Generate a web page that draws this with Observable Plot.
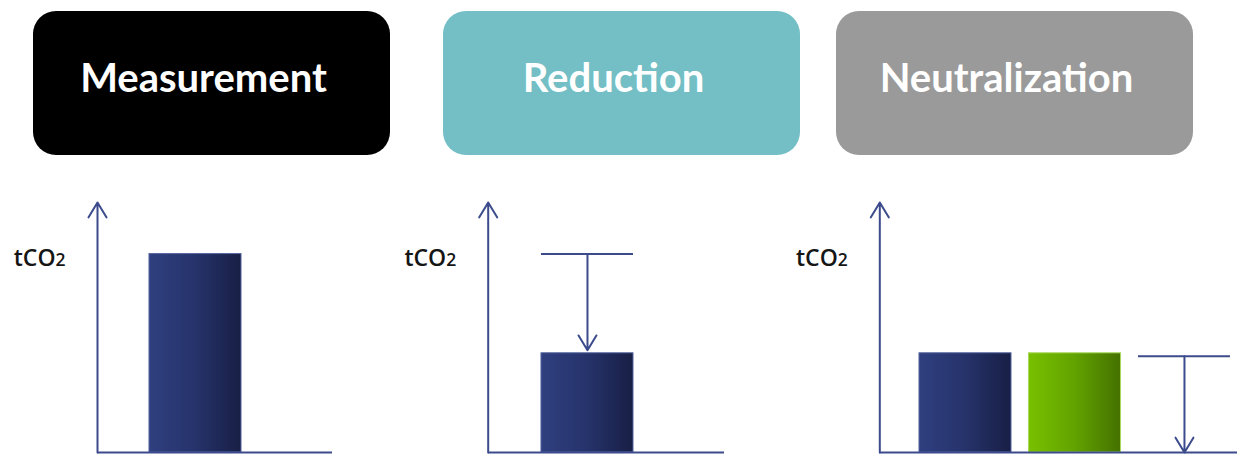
<!DOCTYPE html>
<html>
<head>
<meta charset="utf-8">
<script src="https://cdn.jsdelivr.net/npm/d3@7"></script>
<script src="https://cdn.jsdelivr.net/npm/@observablehq/plot@0.6"></script>
<style>
  html, body { margin: 0; padding: 0; background: #fff; }
  #stage { position: relative; width: 1237px; height: 455px; overflow: hidden; font-family: "Open Sans", sans-serif; }
  .step { position: absolute; top: 11px; width: 357px; height: 144px; border-radius: 23px; }
  .step span { position: absolute; left: 0; right: 0; top: 46px; text-align: center; line-height: 1;
               color: #fff; font-family: Lato, "Open Sans", sans-serif; font-weight: 700; font-size: 40px;
               white-space: nowrap; transform: translateX(-8px); }
  .panel { position: absolute; top: 190px; }
  .panel svg { display: block; overflow: visible; }
</style>
</head>
<body>
<div id="stage">
  <svg width="0" height="0" style="position:absolute">
    <defs>
      <linearGradient id="gradEmissions" x1="0" x2="1" y1="0" y2="0">
        <stop offset="0" stop-color="#2f3f7f"/>
        <stop offset="0.5" stop-color="#26336b"/>
        <stop offset="1" stop-color="#181f45"/>
      </linearGradient>
      <linearGradient id="gradOffsets" x1="0" x2="1" y1="0" y2="0">
        <stop offset="0" stop-color="#79c000"/>
        <stop offset="0.5" stop-color="#62a300"/>
        <stop offset="1" stop-color="#457100"/>
      </linearGradient>
    </defs>
  </svg>
</div>
<script>
// Three steps of carbon management
const steps = ["Measurement", "Reduction", "Neutralization"];
const stepColors = ["#000000", "#73bfc5", "#9a9a9a"];
const unitLabel = "tCO₂";

// Step 1: measured emissions
const measurementCategories = ["Emissions"];
const measurementValues = [100];

// Step 2: emissions after reduction, and the level they were reduced from
const reductionCategories = ["Emissions"];
const reductionValues = [50];
const reductionFrom = [100];

// Step 3: remaining emissions, offsets bought, and the amount neutralized
const neutralizationCategories = ["Emissions", "Offsets"];
const neutralizationValues = [50, 50];
const neutralizedLevel = [48.5];

const AXIS = "#3c4b8c";
const STEP = 1.19;       // slot pitch, in bar widths
const Y_MAX = 126;

const fills = {Emissions: "url(#gradEmissions)", Offsets: "url(#gradOffsets)"};
const edges = {Emissions: "#52639e", Offsets: "#a8d85c"};

const stage = document.getElementById("stage");

// header boxes
steps.forEach((name, i) => {
  const box = document.createElement("div");
  box.className = "step";
  box.style.left = [33, 443, 836][i] + "px";
  box.style.background = stepColors[i];
  const t = document.createElement("span");
  t.textContent = name;
  box.appendChild(t);
  stage.appendChild(box);
});

// write the "2" of tCO₂ as a smaller digit sitting on the baseline
function subscriptUnit(svg) {
  d3.select(svg).selectAll("text").each(function () {
    const node = d3.select(this);
    const target = node.selectAll("tspan").empty() ? node : node.select("tspan");
    const s = target.text();
    if (!s.endsWith("₂")) return;
    target.text(s.slice(0, -1));
    target.append("tspan").attr("font-size", "0.76em").attr("dy", "0.02em").text("2");
  });
}

function panel({left, width, marginLeft, marginRight, xDomain, categories, values, guides}) {
  const bars = categories.map((c, i) => ({category: c, slot: i, value: values[i]}));
  const x0 = xDomain[0];
  const marks = [
    Plot.rectY(bars, {
      x1: d => d.slot * STEP, x2: d => d.slot * STEP + 1, y: "value",
      fill: d => fills[d.category], stroke: d => edges[d.category], strokeWidth: 1
    }),
    Plot.ruleY([0], {stroke: AXIS, strokeWidth: 2}),
    Plot.arrow([0], {x1: x0, x2: x0, y1: 0, y2: Y_MAX, stroke: AXIS, strokeWidth: 2, headLength: 13, headAngle: 62}),
    Plot.text([unitLabel], {frameAnchor: "top-left", dx: -32, dy: 47, textAnchor: "end",
      fontSize: 23, fontWeight: 600, fill: "#151515"})
  ];
  if (guides) {
    marks.push(
      Plot.ruleY(guides, {x1: d => d.slot * STEP, x2: d => d.slot * STEP + 1, y: "from", stroke: AXIS, strokeWidth: 2}),
      Plot.arrow(guides, {x1: d => d.slot * STEP + 0.5, x2: d => d.slot * STEP + 0.5, y1: "from", y2: "to",
        stroke: AXIS, strokeWidth: 2, headLength: 13, headAngle: 62})
    );
  }
  const chart = Plot.plot({
    width, height: 265,
    marginTop: 12, marginBottom: 3, marginLeft, marginRight,
    x: {domain: xDomain, axis: null},
    y: {domain: [0, Y_MAX], axis: null},
    color: {type: "identity"},
    style: {fontFamily: "Open Sans", background: "transparent", overflow: "visible"},
    marks
  });
  subscriptUnit(chart);
  const wrap = document.createElement("div");
  wrap.className = "panel";
  wrap.style.left = left + "px";
  wrap.appendChild(chart);
  stage.appendChild(wrap);
}

panel({
  left: 0, width: 340, marginLeft: 97, marginRight: 8,
  xDomain: [-0.565, 1.989],
  categories: measurementCategories, values: measurementValues
});

panel({
  left: 390, width: 340, marginLeft: 97.7, marginRight: 6,
  xDomain: [-0.579, 1.989],
  categories: reductionCategories, values: reductionValues,
  guides: [{slot: 0, from: reductionFrom[0], to: reductionValues[0] + 1.5}]
});

panel({
  left: 780, width: 457, marginLeft: 99.3, marginRight: 0,
  xDomain: [-0.4315, 3.4565],
  categories: neutralizationCategories, values: neutralizationValues,
  guides: [{slot: 2, from: neutralizedLevel[0], to: 0}]
});
</script>
</body>
</html>
